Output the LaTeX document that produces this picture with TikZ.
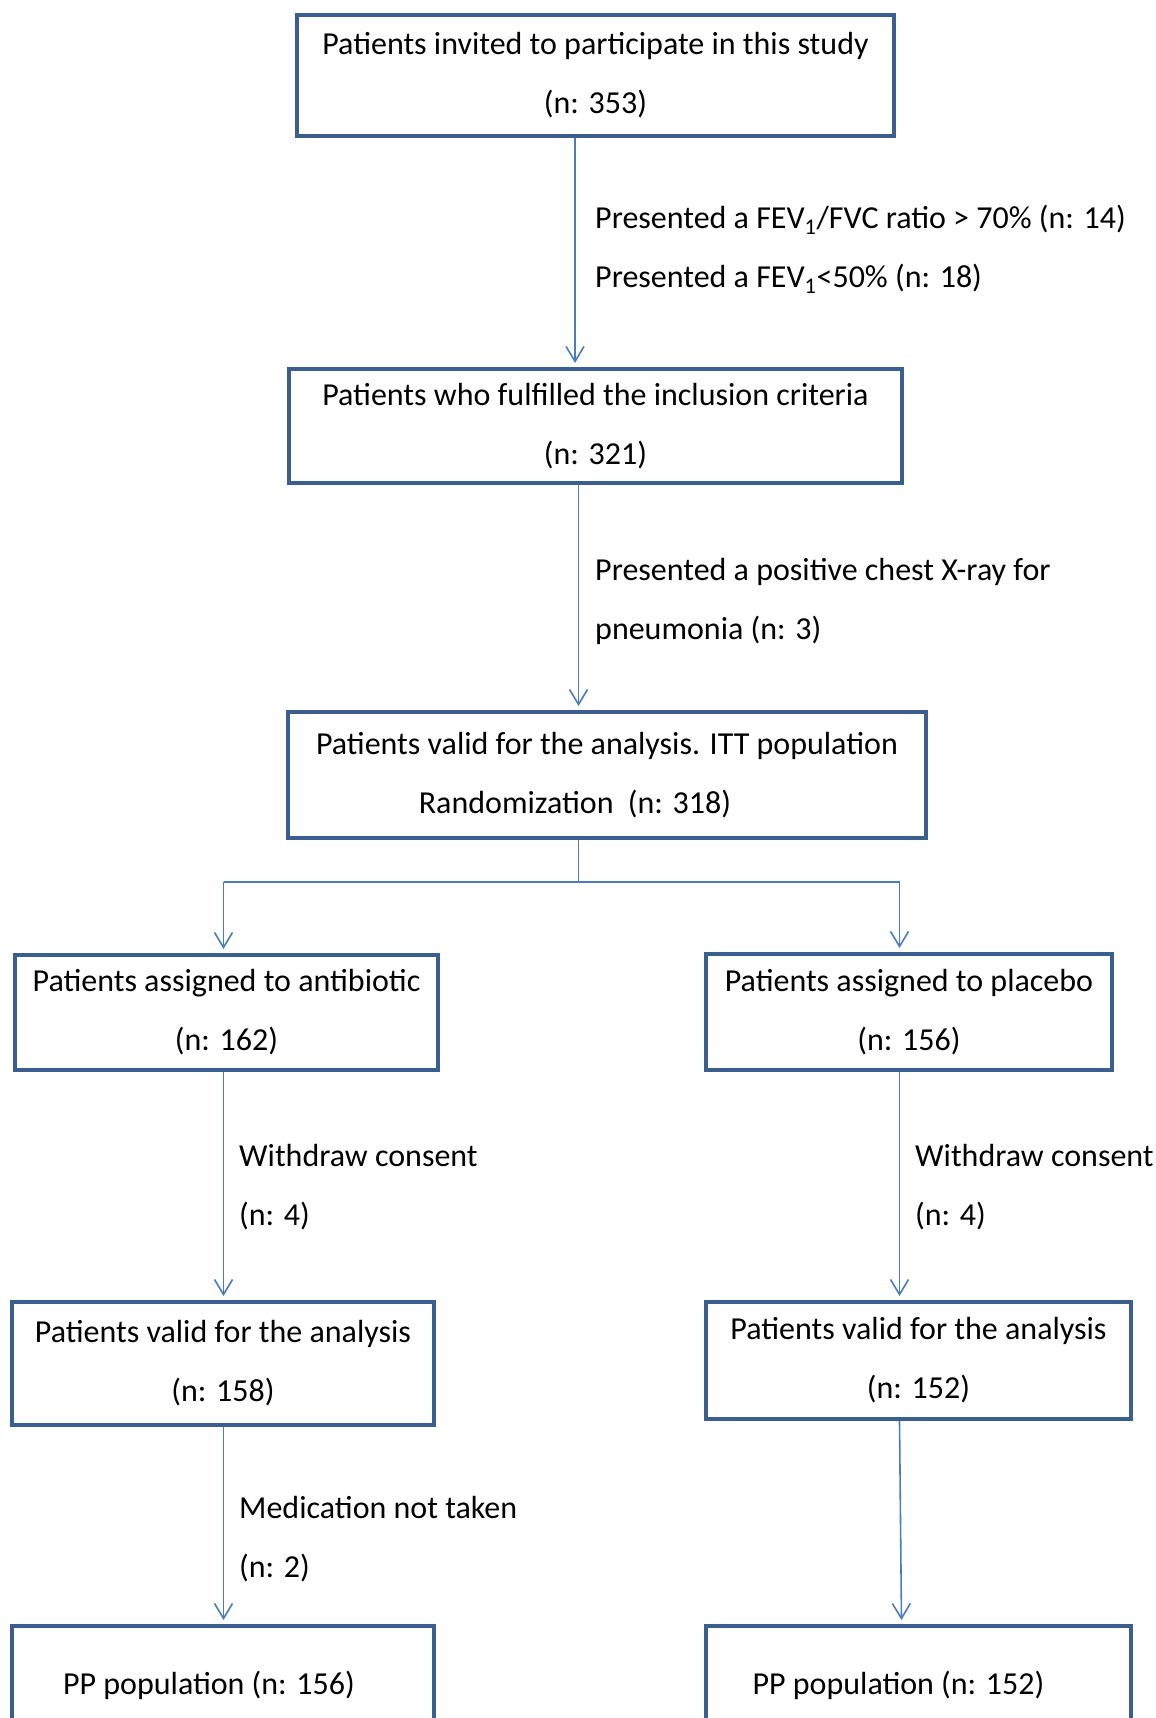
\documentclass[tikz,border=0pt]{standalone}
\usepackage{fontspec}
\setmainfont{Carlito}
\usetikzlibrary{arrows.meta}
\definecolor{boxblue}{HTML}{3A5F8F}
\definecolor{arrblue}{HTML}{4A7EBB}
\tikzset{
  box/.style={draw=boxblue,line width=4pt,inner sep=0pt,align=center,
    font=\fontsize{32}{59}\selectfont},
  lbl/.style={anchor=west,inner sep=0pt,align=left,
    font=\fontsize{32}{59}\selectfont},
  arr/.style={draw=arrblue,line width=1.6pt,-{Straight Barb[length=15pt,width=18pt]}},
  ln/.style={draw=arrblue,line width=1.6pt}
}
\begin{document}
\begin{tikzpicture}[x=1pt,y=-1pt]
\useasboundingbox (0,0) rectangle (1156,1718);
% boxes
\node[box,minimum width=597pt,minimum height=121pt] (inv) at (595.5,75.5)
  {Patients invited to participate in this study\\(n: 353)};
\node[box,minimum width=613pt,minimum height=114pt] (crit) at (595.5,426)
  {Patients who fulfilled the inclusion criteria\\(n: 321)};
\node[box,minimum width=638pt,minimum height=126pt] (itt) at (607,775)
  {Patients valid for the analysis. ITT population\\Randomization\ \ (n: 318)\hspace*{64pt}};
\node[box,minimum width=423pt,minimum height=115pt] (ab) at (226.5,1012.5)
  {Patients assigned to antibiotic\\(n: 162)};
\node[box,minimum width=406pt,minimum height=116pt] (pl) at (909,1012)
  {Patients assigned to placebo\\(n: 156)};
\node[box,minimum width=422pt,minimum height=123pt] (abv) at (223,1363.5)
  {Patients valid for the analysis\\(n: 158)};
\node[box,minimum width=425pt,minimum height=117pt] (plv) at (918.5,1360.5)
  {Patients valid for the analysis\\(n: 152)};
\node[box,minimum width=422pt,minimum height=118pt] (abpp) at (223,1685)
  {PP population (n: 156)\hspace*{28pt}};
\node[box,minimum width=425pt,minimum height=118pt] (plpp) at (918.5,1685)
  {PP population (n: 152)\hspace*{40pt}};
% labels
\node[lbl] (l1) at (595,249)
  {Presented a FEV\textsubscript{1}/FVC ratio > 70\% (n: 14)\\Presented a FEV\textsubscript{1}<50\% (n: 18)};
\node[lbl] (l2) at (595,601)
  {Presented a positive chest X-ray for\\pneumonia (n: 3)};
\node[lbl] (l3) at (239,1187) {Withdraw consent\\(n: 4)};
\node[lbl] (l4) at (915,1187) {Withdraw consent\\(n: 4)};
\node[lbl] (l5) at (239,1539) {Medication not taken\\(n: 2)};
% connectors
\coordinate (c1) at (575,0);
\coordinate (c2) at (578.5,0);
\coordinate (sl) at (223.5,882);
\coordinate (sr) at (899.5,882);
\draw[arr] (inv.south -| c1) -- ([yshift=4pt]crit.north -| c1);
\draw[arr] (crit.south -| c2) -- ([yshift=4pt]itt.north -| c2);
\draw[ln] (itt.south -| c2) -- (sl -| c2);
\draw[ln] (sl) -- (sr);
\draw[arr] (sl) -- ([yshift=4pt]ab.north -| sl);
\draw[arr] (sr) -- ([yshift=4pt]pl.north -| sr);
\draw[arr] (ab.south -| sl) -- ([yshift=4pt]abv.north -| sl);
\draw[arr] (pl.south -| sr) -- ([yshift=4pt]plv.north -| sr);
\draw[arr] (abv.south -| sl) -- ([yshift=4pt]abpp.north -| sl);
\draw[arr] (plv.south -| sr) -- ([yshift=4pt,xshift=2pt]plpp.north -| sr);
\end{tikzpicture}
\end{document}
